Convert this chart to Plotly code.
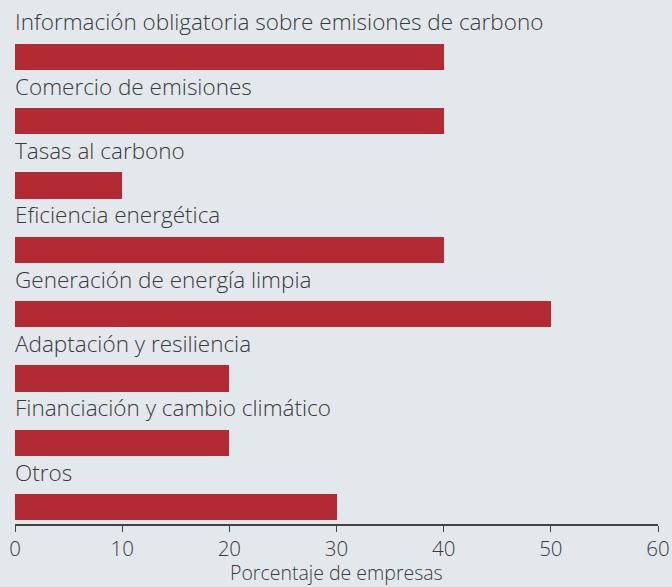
import plotly.graph_objects as go

# Policy areas and share of companies (%)
categories = [
    "Información obligatoria sobre emisiones de carbono",
    "Comercio de emisiones",
    "Tasas al carbono",
    "Eficiencia energética",
    "Generación de energía limpia",
    "Adaptación y resiliencia",
    "Financiación y cambio climático",
    "Otros",
]
values = [40, 40, 10, 40, 50, 20, 20, 30]
x_ticks = [0, 10, 20, 30, 40, 50, 60]
x_title = "Porcentaje de empresas"

BG = "#e3e8ec"
BAR = "#b22a33"
TXT = "#3a3a3a"
FONT = "Open Sans, Liberation Sans, Arial, sans-serif"

fig = go.Figure(
    go.Bar(
        x=values,
        y=categories,
        orientation="h",
        marker=dict(color=BAR, line=dict(width=0)),
        width=0.41,
        hoverinfo="x+y",
    )
)

# category labels sit above each bar
for cat in categories:
    fig.add_annotation(
        x=0, y=cat, xref="x", yref="y",
        text=cat, showarrow=False,
        xanchor="left", yanchor="middle", yshift=35, xshift=-2,
        font=dict(family=FONT, size=22.5, color=TXT, weight=300),
    )

# x-axis title, anchored to the bottom edge below the tick labels
fig.add_annotation(
    x=0.5, y=0, xref="paper", yref="paper",
    text=x_title, showarrow=False,
    xanchor="center", yanchor="bottom", yshift=-63, borderpad=0,
    font=dict(family=FONT, size=19.5, color=TXT, weight=300),
)

fig.update_layout(
    width=672, height=587,
    margin=dict(l=15, r=14, t=0, b=63),
    paper_bgcolor=BG, plot_bgcolor=BG,
    showlegend=False,
    bargap=0,
    font=dict(family=FONT, color=TXT, weight=300),
)
fig.update_xaxes(
    range=[0, 60],
    tickvals=x_ticks,
    ticks="outside", ticklen=6, tickwidth=1.2, tickcolor="#444",
    showline=True, linecolor="#444", linewidth=1.5,
    showgrid=False, zeroline=False,
    tickfont=dict(family=FONT, size=20.5, color=TXT, weight=300),
)
fig.update_yaxes(
    type="category",
    categoryorder="array", categoryarray=categories,
    range=[7.263, -0.886],
    showticklabels=False, showgrid=False, zeroline=False, showline=False,
)

fig.write_html("out.html")
